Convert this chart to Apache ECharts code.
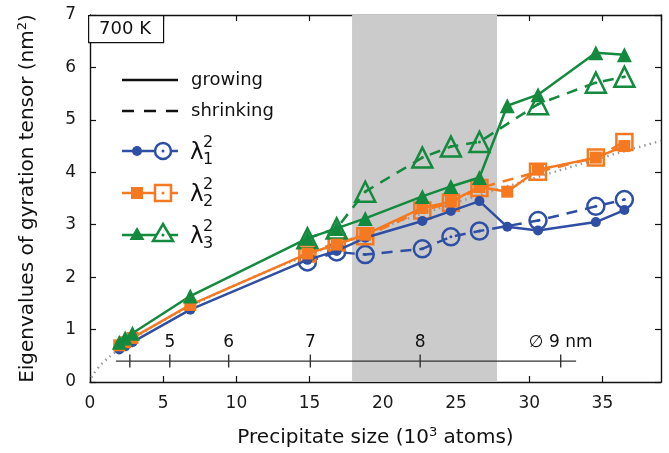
<!DOCTYPE html>
<html>
<head>
<meta charset="utf-8">
<script src="https://cdn.jsdelivr.net/npm/echarts@6/dist/echarts.min.js"></script>
<style>html,body{margin:0;padding:0;background:#fff}#c{width:669px;height:453px}</style>
</head>
<body>
<div id="c"></div>
<script>
// ---- data ----
var sizeGrow = [2.0, 2.4, 2.9, 6.85, 14.85, 16.85, 18.8, 22.7, 24.65, 26.6, 28.5, 30.6, 34.55, 36.5];
var l1Grow = [0.62, 0.68, 0.76, 1.38, 2.33, 2.50, 2.75, 3.07, 3.26, 3.45, 2.96, 2.89, 3.05, 3.28];
var l2Grow = [0.70, 0.76, 0.84, 1.47, 2.45, 2.62, 2.81, 3.32, 3.44, 3.72, 3.63, 4.05, 4.28, 4.50];
var l3Grow = [0.76, 0.84, 0.93, 1.64, 2.74, 2.93, 3.12, 3.54, 3.73, 3.90, 5.27, 5.48, 6.28, 6.24];

var sizeShrink = [14.85, 16.85, 18.8, 22.7, 24.65, 26.6, 30.6, 34.55, 36.5];
var l1Shrink = [2.29, 2.48, 2.43, 2.54, 2.77, 2.88, 3.08, 3.35, 3.48];
var l2Shrink = [2.45, 2.66, 2.78, 3.27, 3.42, 3.70, 4.01, 4.28, 4.58];
var l3Shrink = [2.74, 2.93, 3.63, 4.28, 4.49, 4.58, 5.30, 5.71, 5.82];

// grey dotted reference curve
var refX = [0.1, 0.5, 1, 1.5, 2, 3, 5, 7, 10, 15, 20, 25, 30, 35, 39];
var refY = [0.09, 0.25, 0.40, 0.52, 0.63, 0.83, 1.17, 1.46, 1.86, 2.43, 2.95, 3.42, 3.86, 4.28, 4.60];

// diameter scale (nm) and its tick positions in 10^3 atoms
var diaTickX = [2.72, 5.45, 9.47, 15.05, 22.55, 32.15];
var diaLabels = ['', '5', '6', '7', '8', '\u2205 9 nm'];
var diaLineX = [1.77, 33.2];
var diaY = 0.4;

var bandX = [17.9, 27.8];

var BLUE = '#2e4fa3', ORANGE = '#f47920', GREEN = '#138a3e';
var FONT = '"DejaVu Sans", sans-serif';

function pairs(xs, ys) { return xs.map(function (x, i) { return [x, ys[i]]; }); }

function grow(name, ys, color, symbol, size) {
  return {
    name: name, type: 'line', data: pairs(sizeGrow, ys), z: 5,
    symbol: symbol, symbolSize: size, showAllSymbol: true,
    lineStyle: { color: color, width: 2.5 },
    itemStyle: { color: color, borderWidth: 0 }
  };
}
function shrink(name, ys, color, symbol, size) {
  return {
    name: name, type: 'line', data: pairs(sizeShrink, ys), z: 4,
    symbol: symbol, symbolSize: size, showAllSymbol: true,
    lineStyle: { color: color, width: 2.5, type: [11, 8] },
    itemStyle: { color: 'rgba(0,0,0,0)', borderColor: color, borderWidth: 2.5 }
  };
}
function dots(ys, color) {
  return {
    type: 'scatter', data: pairs(sizeShrink, ys), z: 6,
    symbol: 'circle', symbolSize: 3, itemStyle: { color: color, opacity: 1 }, silent: true
  };
}

var chart = echarts.init(document.getElementById('c'), null, { renderer: 'canvas' });

var axisCommon = {
  axisLine: { show: true, onZero: false, lineStyle: { color: '#111', width: 1.4 } },
  axisTick: { show: true, inside: true, length: 6, lineStyle: { color: '#111', width: 1.2 } },
  splitLine: { show: false }
};
var titleRich = {
  a: { fontSize: 20, color: '#111', fontFamily: FONT },
  s: { fontSize: 13, color: '#111', padding: [0, 0, 11, 0], fontFamily: FONT }
};

var option = {
  animation: false,
  backgroundColor: '#fff',
  textStyle: { fontFamily: FONT },
  grid: { left: 90, right: 8, top: 15, bottom: 71 },
  xAxis: [
    Object.assign({
      type: 'value', min: 0, max: 39, interval: 5, position: 'bottom',
      name: '{a|Precipitate size (10}{s|3}{a| atoms)}',
      nameLocation: 'middle', nameGap: 44,
      nameTextStyle: { rich: titleRich },
      axisLabel: { fontSize: 17, color: '#1a1a1a', margin: 13, showMaxLabel: false, fontFamily: FONT }
    }, axisCommon),
    Object.assign({
      type: 'value', min: 0, max: 39, interval: 5, position: 'top',
      axisLabel: { show: false }
    }, axisCommon)
  ],
  yAxis: [
    Object.assign({
      type: 'value', min: 0, max: 7, interval: 1, position: 'left',
      name: '{a|Eigenvalues of gyration tensor (nm}{s|2}{a|)}',
      nameLocation: 'middle', nameGap: 50,
      nameTextStyle: { rich: titleRich },
      axisLabel: { fontSize: 17, color: '#1a1a1a', margin: 14, fontFamily: FONT }
    }, axisCommon),
    Object.assign({
      type: 'value', min: 0, max: 7, interval: 1, position: 'right',
      axisLabel: { show: false }
    }, axisCommon)
  ],
  series: [
    {
      type: 'line', data: [], z: 1, silent: true,
      markArea: { silent: true, itemStyle: { color: '#cbcbcb' }, data: [[{ xAxis: bandX[0] }, { xAxis: bandX[1] }]] }
    },
    {
      type: 'line', data: pairs(diaLineX, [diaY, diaY]), z: 2, symbol: 'none', silent: true,
      lineStyle: { color: '#333', width: 1.2 }
    },
    {
      type: 'scatter', data: diaTickX.map(function (x) { return [x, diaY]; }), z: 2, silent: true,
      symbol: 'rect', symbolSize: [1.4, 13], itemStyle: { color: '#333', opacity: 1 },
      label: {
        show: true, position: 'top', distance: 3, fontSize: 17, color: '#111', fontFamily: FONT,
        formatter: function (p) { return diaLabels[p.dataIndex]; }
      }
    },
    {
      type: 'line', data: pairs(refX, refY), z: 3, symbol: 'none', smooth: true, silent: true,
      lineStyle: { color: '#9a9a9a', width: 2.5, type: [1.5, 4] }
    },
    shrink('l1s', l1Shrink, BLUE, 'circle', 17),
    shrink('l2s', l2Shrink, ORANGE, 'rect', 16),
    shrink('l3s', l3Shrink, GREEN, 'triangle', 20),
    grow('l1g', l1Grow, BLUE, 'circle', 10),
    grow('l2g', l2Grow, ORANGE, 'rect', 12),
    grow('l3g', l3Grow, GREEN, 'triangle', 15),
    dots(l1Shrink, BLUE), dots(l2Shrink, ORANGE), dots(l3Shrink, GREEN)
  ],
  graphic: [
    // 700 K box
    { type: 'rect', left: 88, top: 15, shape: { width: 75, height: 27 }, style: { fill: '#fff', stroke: '#111', lineWidth: 1.2 }, z: 50 },
    { type: 'text', x: 125, y: 29, style: { text: '700 K', font: '18px ' + FONT, fill: '#111', textAlign: 'center', textVerticalAlign: 'middle' }, z: 51 },
    // legend: growing / shrinking
    { type: 'line', shape: { x1: 122, y1: 80, x2: 178, y2: 80 }, style: { stroke: '#111', lineWidth: 2.5 }, z: 50 },
    { type: 'text', x: 191, y: 80, style: { text: 'growing', font: '18px ' + FONT, fill: '#111', textVerticalAlign: 'middle' }, z: 50 },
    { type: 'line', shape: { x1: 122, y1: 111, x2: 178, y2: 111 }, style: { stroke: '#111', lineWidth: 2.5, lineDash: [12, 10] }, z: 50 },
    { type: 'text', x: 191, y: 111, style: { text: 'shrinking', font: '18px ' + FONT, fill: '#111', textVerticalAlign: 'middle' }, z: 50 },
    // lambda 1
    { type: 'line', shape: { x1: 122, y1: 151, x2: 178, y2: 151 }, style: { stroke: BLUE, lineWidth: 2.5 }, z: 50 },
    { type: 'circle', shape: { cx: 137, cy: 151, r: 5 }, style: { fill: BLUE }, z: 51 },
    { type: 'circle', shape: { cx: 163, cy: 151, r: 8 }, style: { fill: '#fff', stroke: BLUE, lineWidth: 2.5 }, z: 51 },
    { type: 'circle', shape: { cx: 163, cy: 151, r: 1.5 }, style: { fill: BLUE }, z: 52 },
    { type: 'text', x: 190, y: 153, style: { text: '\u03bb', font: '23px ' + FONT, fill: '#111', textVerticalAlign: 'middle' }, z: 50 },
    { type: 'text', x: 203, y: 143, style: { text: '2', font: '16px ' + FONT, fill: '#111', textVerticalAlign: 'middle' }, z: 50 },
    { type: 'text', x: 203, y: 160, style: { text: '1', font: '16px ' + FONT, fill: '#111', textVerticalAlign: 'middle' }, z: 50 },
    // lambda 2
    { type: 'line', shape: { x1: 122, y1: 193, x2: 178, y2: 193 }, style: { stroke: ORANGE, lineWidth: 2.5 }, z: 50 },
    { type: 'rect', shape: { x: 131, y: 187, width: 12, height: 12 }, style: { fill: ORANGE }, z: 51 },
    { type: 'rect', shape: { x: 155, y: 185, width: 16, height: 16 }, style: { fill: '#fff', stroke: ORANGE, lineWidth: 2.5 }, z: 51 },
    { type: 'circle', shape: { cx: 163, cy: 193, r: 1.5 }, style: { fill: ORANGE }, z: 52 },
    { type: 'text', x: 190, y: 195, style: { text: '\u03bb', font: '23px ' + FONT, fill: '#111', textVerticalAlign: 'middle' }, z: 50 },
    { type: 'text', x: 203, y: 185, style: { text: '2', font: '16px ' + FONT, fill: '#111', textVerticalAlign: 'middle' }, z: 50 },
    { type: 'text', x: 203, y: 202, style: { text: '2', font: '16px ' + FONT, fill: '#111', textVerticalAlign: 'middle' }, z: 50 },
    // lambda 3
    { type: 'line', shape: { x1: 122, y1: 235, x2: 178, y2: 235 }, style: { stroke: GREEN, lineWidth: 2.5 }, z: 50 },
    { type: 'polygon', shape: { points: [[137, 227], [144.5, 240], [129.5, 240]] }, style: { fill: GREEN }, z: 51 },
    { type: 'polygon', shape: { points: [[163, 224], [173, 241], [153, 241]] }, style: { fill: '#fff', stroke: GREEN, lineWidth: 2.5 }, z: 51 },
    { type: 'circle', shape: { cx: 163, cy: 235, r: 1.5 }, style: { fill: GREEN }, z: 52 },
    { type: 'text', x: 190, y: 237, style: { text: '\u03bb', font: '23px ' + FONT, fill: '#111', textVerticalAlign: 'middle' }, z: 50 },
    { type: 'text', x: 203, y: 227, style: { text: '2', font: '16px ' + FONT, fill: '#111', textVerticalAlign: 'middle' }, z: 50 },
    { type: 'text', x: 203, y: 244, style: { text: '3', font: '16px ' + FONT, fill: '#111', textVerticalAlign: 'middle' }, z: 50 }
  ]
};
chart.setOption(option);
</script>
</body>
</html>
